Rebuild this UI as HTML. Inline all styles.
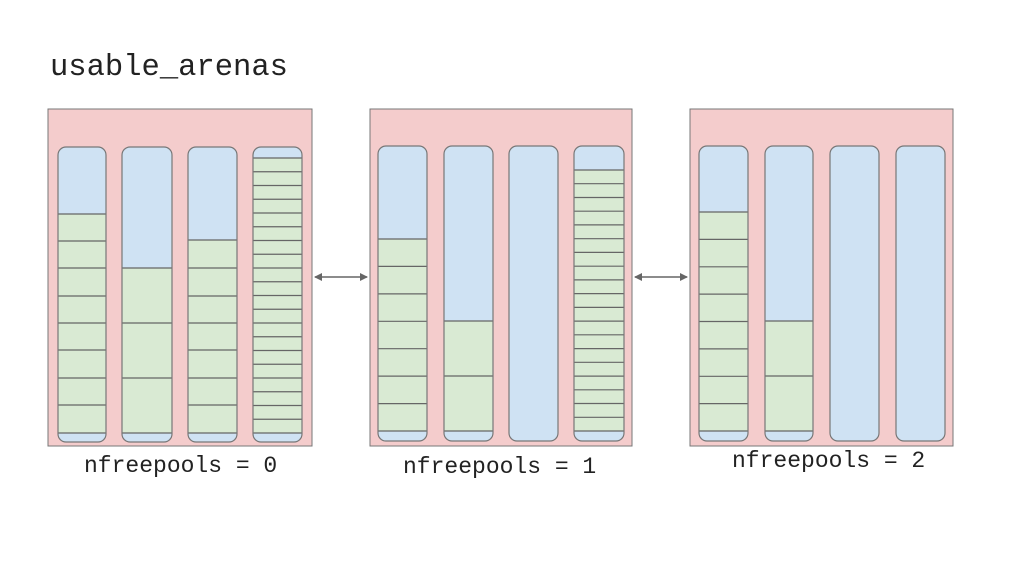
<!DOCTYPE html>
<html><head><meta charset="utf-8"><style>
html,body{margin:0;padding:0;background:#fff;width:1024px;height:576px;overflow:hidden}
text{font-family:"Liberation Mono","DejaVu Sans Mono",monospace;fill:#222}
</style></head><body>
<svg width="1024" height="576" viewBox="0 0 1024 576" xmlns="http://www.w3.org/2000/svg">
<defs>
<marker id="ah" markerWidth="8" markerHeight="8" refX="7" refY="4" orient="auto-start-reverse" markerUnits="userSpaceOnUse"><path d="M0,0 L8,4 L0,8 z" fill="#666"/></marker>
<clipPath id="c1"><rect x="58" y="147" width="48" height="295" rx="8"/></clipPath>
<clipPath id="c2"><rect x="122" y="147" width="50" height="295" rx="8"/></clipPath>
<clipPath id="c3"><rect x="188" y="147" width="49" height="295" rx="8"/></clipPath>
<clipPath id="c4"><rect x="253" y="147" width="49" height="295" rx="8"/></clipPath>
<clipPath id="d1"><rect x="378" y="146" width="49" height="295" rx="8"/></clipPath>
<clipPath id="d2"><rect x="444" y="146" width="49" height="295" rx="8"/></clipPath>
<clipPath id="d4"><rect x="574" y="146" width="50" height="295" rx="8"/></clipPath>
<clipPath id="e1"><rect x="699" y="146" width="49" height="295" rx="8"/></clipPath>
<clipPath id="e2"><rect x="765" y="146" width="48" height="295" rx="8"/></clipPath>
</defs>
<text x="50" y="75" font-size="30.5">usable_arenas</text>

<rect x="48" y="109" width="264" height="337" fill="#f4cccc" stroke="#777" stroke-width="1"/>
<rect x="370" y="109" width="262" height="337" fill="#f4cccc" stroke="#777" stroke-width="1"/>
<rect x="690" y="109" width="263" height="337" fill="#f4cccc" stroke="#777" stroke-width="1"/>

<g stroke="#666" stroke-width="1.2">
<!-- arena 1 -->
<g clip-path="url(#c1)"><rect x="58" y="147" width="48" height="295" fill="#cfe2f3" stroke="none"/><rect x="58" y="214" width="48" height="219" fill="#d9ead3" stroke="none"/>
<path d="M58 214h48M58 241h48M58 268h48M58 296h48M58 323h48M58 350h48M58 378h48M58 405h48M58 433h48"/></g>
<rect x="58" y="147" width="48" height="295" rx="8" fill="none" stroke="#777"/>
<g clip-path="url(#c2)"><rect x="122" y="147" width="50" height="295" fill="#cfe2f3" stroke="none"/><rect x="122" y="268" width="50" height="165" fill="#d9ead3" stroke="none"/>
<path d="M122 268h50M122 323h50M122 378h50M122 433h50"/></g>
<rect x="122" y="147" width="50" height="295" rx="8" fill="none" stroke="#777"/>
<g clip-path="url(#c3)"><rect x="188" y="147" width="49" height="295" fill="#cfe2f3" stroke="none"/><rect x="188" y="240" width="49" height="193" fill="#d9ead3" stroke="none"/>
<path d="M188 240h49M188 268h49M188 296h49M188 323h49M188 350h49M188 378h49M188 405h49M188 433h49"/></g>
<rect x="188" y="147" width="49" height="295" rx="8" fill="none" stroke="#777"/>
<g clip-path="url(#c4)"><rect x="253" y="147" width="49" height="295" fill="#cfe2f3" stroke="none"/><rect x="253" y="158" width="49" height="275" fill="#d9ead3" stroke="none"/>
<path d="M253 158h49M253 171.75h49M253 185.5h49M253 199.25h49M253 213h49M253 226.75h49M253 240.5h49M253 254.25h49M253 268h49M253 281.75h49M253 295.5h49M253 309.25h49M253 323h49M253 336.75h49M253 350.5h49M253 364.25h49M253 378h49M253 391.75h49M253 405.5h49M253 419.25h49M253 433h49"/></g>
<rect x="253" y="147" width="49" height="295" rx="8" fill="none" stroke="#777"/>

<!-- arena 2 -->
<g clip-path="url(#d1)"><rect x="378" y="146" width="49" height="295" fill="#cfe2f3" stroke="none"/><rect x="378" y="239" width="49" height="192" fill="#d9ead3" stroke="none"/>
<path d="M378 239h49M378 266.4h49M378 293.9h49M378 321.3h49M378 348.7h49M378 376.1h49M378 403.6h49M378 431h49"/></g>
<rect x="378" y="146" width="49" height="295" rx="8" fill="none" stroke="#777"/>
<g clip-path="url(#d2)"><rect x="444" y="146" width="49" height="295" fill="#cfe2f3" stroke="none"/><rect x="444" y="321" width="49" height="110" fill="#d9ead3" stroke="none"/>
<path d="M444 321h49M444 376h49M444 431h49"/></g>
<rect x="444" y="146" width="49" height="295" rx="8" fill="none" stroke="#777"/>
<rect x="509" y="146" width="49" height="295" rx="8" fill="#cfe2f3" stroke="#777"/>
<g clip-path="url(#d4)"><rect x="574" y="146" width="50" height="295" fill="#cfe2f3" stroke="none"/><rect x="574" y="170" width="50" height="261" fill="#d9ead3" stroke="none"/>
<path d="M574 170h50M574 183.7h50M574 197.5h50M574 211.2h50M574 224.9h50M574 238.7h50M574 252.4h50M574 266.2h50M574 279.9h50M574 293.6h50M574 307.4h50M574 321.1h50M574 334.8h50M574 348.6h50M574 362.3h50M574 376.1h50M574 389.8h50M574 403.5h50M574 417.3h50M574 431h50"/></g>
<rect x="574" y="146" width="50" height="295" rx="8" fill="none" stroke="#777"/>

<!-- arena 3 -->
<g clip-path="url(#e1)"><rect x="699" y="146" width="49" height="295" fill="#cfe2f3" stroke="none"/><rect x="699" y="212" width="49" height="219" fill="#d9ead3" stroke="none"/>
<path d="M699 212h49M699 239.4h49M699 266.8h49M699 294.1h49M699 321.5h49M699 348.9h49M699 376.3h49M699 403.6h49M699 431h49"/></g>
<rect x="699" y="146" width="49" height="295" rx="8" fill="none" stroke="#777"/>
<g clip-path="url(#e2)"><rect x="765" y="146" width="48" height="295" fill="#cfe2f3" stroke="none"/><rect x="765" y="321" width="48" height="110" fill="#d9ead3" stroke="none"/>
<path d="M765 321h48M765 376h48M765 431h48"/></g>
<rect x="765" y="146" width="48" height="295" rx="8" fill="none" stroke="#777"/>
<rect x="830" y="146" width="49" height="295" rx="8" fill="#cfe2f3" stroke="#777"/>
<rect x="896" y="146" width="49" height="295" rx="8" fill="#cfe2f3" stroke="#777"/>
</g>

<line x1="315" y1="277" x2="367" y2="277" stroke="#666" stroke-width="1.5" marker-start="url(#ah)" marker-end="url(#ah)"/>
<line x1="635" y1="277" x2="687" y2="277" stroke="#666" stroke-width="1.5" marker-start="url(#ah)" marker-end="url(#ah)"/>

<text x="84" y="472" font-size="23">nfreepools = 0</text>
<text x="403" y="473" font-size="23">nfreepools = 1</text>
<text x="732" y="467" font-size="23">nfreepools = 2</text>
</svg>
</body></html>
